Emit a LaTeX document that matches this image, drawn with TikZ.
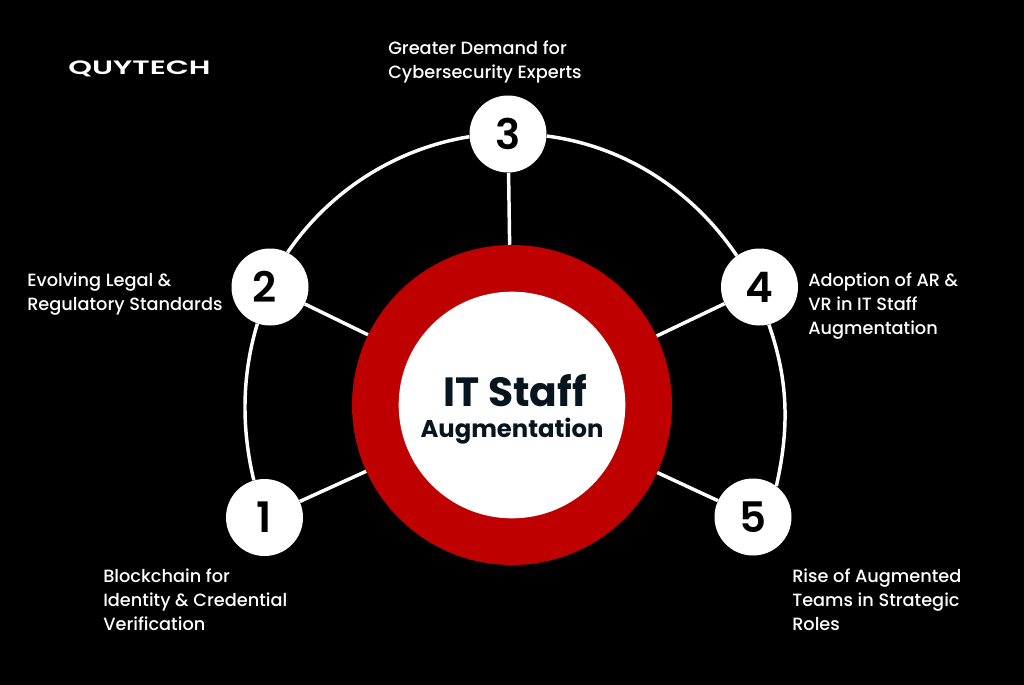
\documentclass[tikz,border=0pt]{standalone}
\usepackage{fontspec}
\setmainfont{Poppins}
\newfontfamily\labfont{Poppins Medium}
\newfontfamily\numfont{Poppins SemiBold}
\newfontfamily\logofont{Poppins SemiBold}[FakeStretch=1.56]
\definecolor{ink}{HTML}{07151F}
\definecolor{ringred}{HTML}{BE0000}
\newcommand\digitbox[1]{\raisebox{-0.75pt}{#1}}
\tikzset{
  px/.style={x=0.75pt,y=-0.75pt},
  numnode/.style={circle,fill=white,minimum size=57.75pt,inner sep=0pt,font=\numfont\fontsize{31.5}{31.5}\selectfont,text=black},
  link/.style={draw=white,line width=2.6pt},
  lab/.style={align=left,anchor=north west,text=white,font=\labfont\fontsize{13.3}{18}\selectfont,inner sep=0pt}
}
\begin{document}
\begin{tikzpicture}[px]
\useasboundingbox (0,0) rectangle (1024,685);
\fill[black] (0,0) rectangle (1024,685);
\coordinate (c) at (512,405);
\node[circle,fill=ringred,minimum size=240pt,inner sep=0pt] (ring) at (c) {};
\node[circle,fill=white,minimum size=170pt,inner sep=0pt] (hub) at (c) {};
\node[numnode] (n3) at (508,134) {\digitbox{3}};
\node[numnode] (n2) at (270,287) {\digitbox{\hbox{2\kern7.5pt}}};
\node[numnode] (n4) at (759.5,287) {\digitbox{4}};
\node[numnode] (n1) at (264.5,517.5) {\digitbox{1}};
\node[numnode] (n5) at (753,517) {\digitbox{5}};
\draw[link] (n3.184) .. controls (395.5,148.8) and (330,190.5) .. (n2.63);
\draw[link] (n3.357) .. controls (624.4,146) and (692.6,190.2) .. (n4.126);
\draw[link] (n2.251) .. controls (241.5,376) and (241.5,429) .. (n1.106);
\draw[link] (n4.284) .. controls (789,382) and (789,430) .. (n5.53);
\draw[link] (n3) -- (ring);
\draw[link] (n2) -- (ring);
\draw[link] (n4) -- (ring);
\draw[link] (n1) -- (ring);
\draw[link] (n5) -- (ring);
\node[text=ink,font=\fontsize{30.6}{30}\selectfont\bfseries] (t1) at (515,391) {IT Staff};
\node[text=ink,font=\fontsize{18.2}{20}\selectfont\bfseries] (t2) at (512,431) {Augmentation};
\node[lab] (l3) at (388,40.5) {Greater Demand for\\Cybersecurity Experts};
\node[lab] (l2) at (27,272.5) {Evolving Legal \&\\Regulatory Standards};
\node[lab] (l4) at (808,272.5) {Adoption of AR \&\\VR in IT Staff\\Augmentation};
\node[lab] (l1) at (103,568.5) {Blockchain for\\Identity \& Credential\\Verification};
\node[lab] (l5) at (792,568.5) {Rise of Augmented\\Teams in Strategic\\Roles};
\node[text=white,font=\logofont\fontsize{14.5}{15}\selectfont] (logo) at (139.5,69) {QUYTECH};
\end{tikzpicture}
\end{document}
